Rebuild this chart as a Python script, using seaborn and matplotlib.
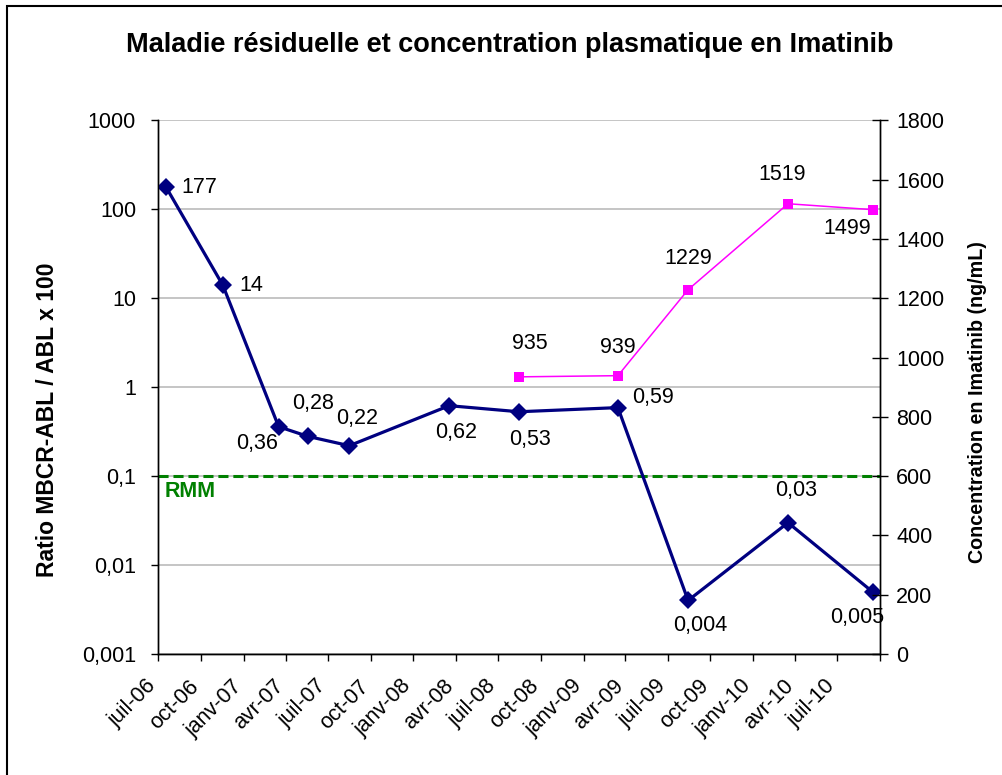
import pandas as pd
import seaborn as sns
import matplotlib.pyplot as plt
from matplotlib.patches import Rectangle
from matplotlib.ticker import FixedLocator, NullLocator
from matplotlib.transforms import ScaledTranslation

# Data
sample_dates = ['2006-07-18', '2006-11-17', '2007-03-17', '2007-05-19', '2007-08-16',
                '2008-03-18', '2008-08-15', '2009-03-16', '2009-08-14', '2010-03-17',
                '2010-09-15']
ratio_values = [177, 14, 0.36, 0.28, 0.22, 0.62, 0.53, 0.59, 0.004, 0.03, 0.005]

conc_dates = ['2008-08-15', '2009-03-16', '2009-08-14', '2010-03-17', '2010-09-15']
conc_values = [935, 939, 1229, 1519, 1499]

rmm_value = 0.1

x_tick_labels = ['juil-06', 'oct-06', 'janv-07', 'avr-07', 'juil-07', 'oct-07',
                 'janv-08', 'avr-08', 'juil-08', 'oct-08', 'janv-09', 'avr-09',
                 'juil-09', 'oct-09', 'janv-10', 'avr-10', 'juil-10', '']
left_ticks = [0.001, 0.01, 0.1, 1, 10, 100, 1000]
left_tick_labels = ['0,001', '0,01', '0,1', '1', '10', '100', '1000']
right_ticks = [0, 200, 400, 600, 800, 1000, 1200, 1400, 1600, 1800]

# label offsets in pixels (dx, dy) relative to each marker
ratio_offsets = [(15, 0), (17, 0), (-22, -17), (5, 33), (8, 27), (7, -27),
                 (11, -28), (35, 10), (12, -25), (8, 32), (-15, -26)]
conc_offsets = [(11, 33), (0, 28), (0, 31), (-6, 29), (-25, -19)]

NAVY = '#000080'
PINK = '#ff00ff'
GREEN = '#008000'
FS = 15.5


def fr(v):
    # French decimal comma
    return f'{v:g}'.replace('.', ',')


sns.set_style('white')
plt.rcParams['font.family'] = ['Liberation Sans', 'DejaVu Sans']
plt.rcParams.update({'text.color': 'black', 'axes.labelcolor': 'black',
                     'xtick.color': 'black', 'ytick.color': 'black'})

ratio_df = pd.DataFrame({'date': pd.to_datetime(sample_dates), 'ratio': ratio_values})
conc_df = pd.DataFrame({'date': pd.to_datetime(conc_dates), 'conc': conc_values})

fig = plt.figure(figsize=(10.03, 7.75), dpi=100)
ax = fig.add_axes([0.1578, 0.1561, 0.7196, 0.6885])
ax2 = ax.twinx()

# main ratio series (log scale)
ax.set_yscale('log')
sns.lineplot(data=ratio_df, x='date', y='ratio', ax=ax, color=NAVY, linewidth=2.3,
             marker='D', markersize=9, markeredgewidth=0, zorder=4)
ax.axhline(rmm_value, color=GREEN, linewidth=2.2, linestyle=(0, (3.3, 1.6)), zorder=3)
ax.annotate('RMM', xy=(0, rmm_value), xycoords=('axes fraction', 'data'),
            xytext=(6, -5), textcoords='offset pixels', ha='left', va='top',
            color=GREEN, fontsize=FS, fontweight='bold')

for d, v, (dx, dy) in zip(ratio_df['date'], ratio_values, ratio_offsets):
    ha = 'left' if (dx >= 15 and dy == 0) else 'center'
    ax.annotate(fr(v), xy=(d, v), xytext=(dx, dy), textcoords='offset pixels',
                ha=ha, va='center', fontsize=FS, color='black')

# concentration series (linear, right axis)
sns.lineplot(data=conc_df, x='date', y='conc', ax=ax2, color=PINK, linewidth=1.1,
             marker='s', markersize=7.7, markeredgewidth=0)
for d, v, (dx, dy) in zip(conc_df['date'], conc_values, conc_offsets):
    ax2.annotate(fr(v), xy=(d, v), xytext=(dx, dy), textcoords='offset pixels',
                 ha='center', va='center', fontsize=FS, color='black')

# x axis
tick_dates = pd.date_range('2006-07-01', periods=len(x_tick_labels), freq='3MS')
ax.set_xlim(tick_dates[0], tick_dates[-1])
ax.set_xticks(tick_dates)
ax.set_xticklabels(x_tick_labels, rotation=45, ha='right', va='center',
                   rotation_mode='anchor', fontsize=FS)
ax.tick_params(axis='x', direction='out', length=5, width=1, pad=16, color='black',
               bottom=True)
shift = ScaledTranslation(-5 / 100, 0, fig.dpi_scale_trans)
for lbl in ax.get_xticklabels():
    lbl.set_transform(lbl.get_transform() + shift)

# left y axis
ax.set_ylim(0.001, 1000)
ax.yaxis.set_major_locator(FixedLocator(left_ticks))
ax.yaxis.set_minor_locator(NullLocator())
ax.set_yticklabels(left_tick_labels, fontsize=FS)
ax.tick_params(axis='y', direction='out', length=5, width=1, color='black', left=True,
               pad=11)
ax.grid(axis='y', color='#c0c0c0', linewidth=1.3)
ax.grid(axis='x', visible=False)
ax.set_xlabel('')
ax.set_ylabel('')

# right y axis
ax2.set_ylim(0, 1800)
ax2.set_yticks(right_ticks)
ax2.set_yticklabels([str(t) for t in right_ticks], fontsize=FS)
ax2.tick_params(axis='y', direction='inout', length=11, width=1, color='black',
                right=True, pad=6)
ax2.grid(False)
ax2.set_xlabel('')
ax2.set_ylabel('')

for a in (ax, ax2):
    a.spines['top'].set_visible(False)
    for s in ('left', 'right', 'bottom'):
        a.spines[s].set_color('black')
        a.spines[s].set_linewidth(1)

fig.text(0.508, 1 - 45 / 775, 'Maladie résiduelle et concentration plasmatique en Imatinib',
         ha='center', va='center', fontsize=19.5, fontweight='bold', color='black')
fig.text(48 / 1003, 1 - 420 / 775, 'Ratio MBCR-ABL / ABL x 100', rotation=90,
         ha='center', va='center', fontsize=16.5, fontweight='bold', color='black')
fig.text(978 / 1003, 1 - 402 / 775, 'Concentration en Imatinib (ng/mL)', rotation=90,
         ha='center', va='center', fontsize=14.2, fontweight='bold', color='black')

# outer chart frame (left and top edges visible)
fig.add_artist(Rectangle((7 / 1003, -0.05), 1.2, 1 - 6 / 775 + 0.05, fill=False,
                         edgecolor='black', linewidth=1.5, transform=fig.transFigure))

fig.savefig('out.png', dpi=100)
